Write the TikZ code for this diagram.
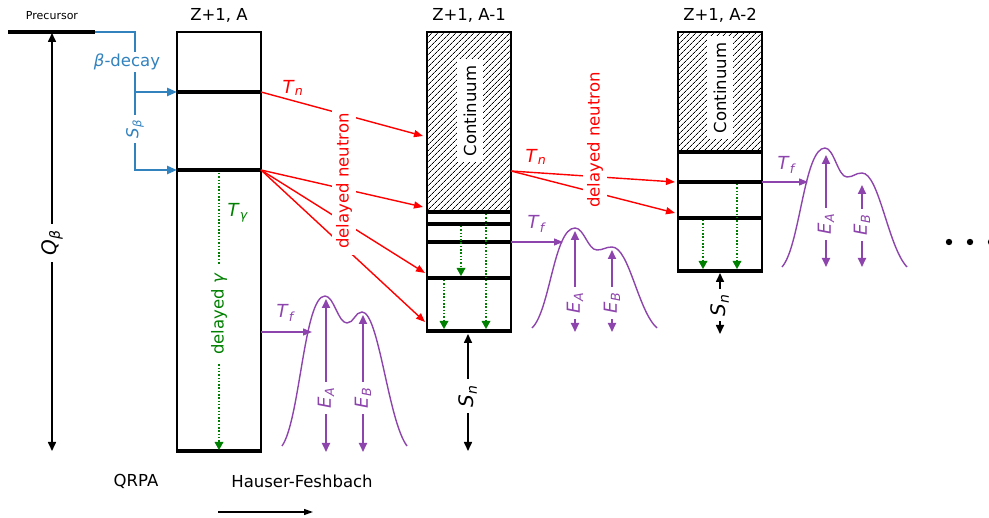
\documentclass[tikz,border=0pt]{standalone}
\usepackage{fontspec}
\setmainfont{DejaVu Sans}
\usetikzlibrary{arrows.meta,patterns.meta}
\definecolor{bblue}{RGB}{50,130,190}
\definecolor{ppurple}{RGB}{142,68,173}
\definecolor{ggreen}{RGB}{0,128,0}
\newcommand{\mlab}[2]{\textit{#1}\textsubscript{\textit{#2}}}
\newcommand{\hump}[5]{%
  \begin{scope}[shift={(#1,#2)}]
  \draw[pcurve] (0,0) .. controls (18,{-0.17*#3}) and (22,-#3) .. (43,-#3)
     .. controls (52,-#3) and (56,-#4) .. (65,-#4)
     .. controls (72,-#4) and (73,-#5) .. (80,-#5)
     .. controls (97,-#5) and (106,{-0.17*#3}) .. (125,0);
  \end{scope}}
\begin{document}
\begin{tikzpicture}[x=1pt,y=-1pt,
  every node/.style={font=\fontsize{16.5}{19}\selectfont},
  lvl/.style={line width=4.5pt},
  boxline/.style={line width=1.5pt},
  hatch/.style={pattern={Lines[angle=45,distance=4pt,line width=0.8pt]}},
  gap/.style={fill=white,inner sep=4pt},
  big/.style={font=\fontsize{20}{24}\selectfont},
  mid/.style={font=\fontsize{18}{21}\selectfont},
  blueline/.style={draw=bblue,line width=2.5pt},
  bluetip/.style={-{Triangle[length=10pt,width=8pt]}},
  redarr/.style={draw=red,line width=1.4pt,-{Triangle[length=9pt,width=7pt]}},
  grarr/.style={draw=ggreen,line width=1.6pt,dash pattern=on 1.5pt off 1.8pt,-{Triangle[length=8pt,width=9pt,line width=0pt]}},
  parr/.style={draw=ppurple,line width=1.3pt,-{Triangle[length=9pt,width=7pt]}},
  pdbl/.style={draw=ppurple,line width=2pt,{Triangle[length=9pt,width=8pt]}-{Triangle[length=9pt,width=8pt]}},
  pcurve/.style={draw=ppurple,line width=1.4pt},
  kdbl/.style={draw=black,line width=1.6pt,{Triangle[length=9pt,width=8pt]}-{Triangle[length=9pt,width=8pt]}},
  contbox/.style={fill=white,rotate=90,minimum width=103pt,minimum height=26pt,inner sep=0pt}]
\useasboundingbox (0,0) rectangle (989,518);
\clip (0,0) rectangle (989,518);

% ---------------- precursor ----------------
\node (prec) at (52,16) {\fontsize{11}{13}\selectfont Precursor};
\coordinate (pL) at (8,32);
\coordinate (pR) at (95,32);
\draw[lvl] (pL) -- (pR);

% Q beta
\coordinate (qtop) at (52,33);
\coordinate (qbot) at (52,451);
\draw[kdbl] (qbot) -- (qtop);
\node[gap,rotate=90,big,inner sep=6pt] (qb) at (52,243) {\mlab{Q}{β}};

% ---------------- box 1 ----------------
\node (t1) at (219,15) {Z+1, A};
\coordinate (b1tl) at (177,32);
\coordinate (b1br) at (261,452);
\draw[boxline] (b1tl) rectangle (b1br);
\coordinate (a1L) at (177,92);  \coordinate (a1R) at (261,92);
\coordinate (a2L) at (177,170); \coordinate (a2R) at (261,170);
\coordinate (a3L) at (177,451); \coordinate (a3R) at (261,451);
\draw[lvl] (a1L) -- (a1R);
\draw[lvl] (a2L) -- (a2R);
\draw[lvl] (a3L) -- (a3R);

% beta decay
\coordinate (bk) at (135,32);
\coordinate (bk2) at (135,92);
\coordinate (bk3) at (135,170);
\draw[blueline,bluetip] (pR) -- (bk) -- (bk3) -- (a2L);
\draw[blueline,bluetip] (bk2) -- (a1L);
\node[gap,text=bblue,inner sep=2pt] (bdec) at (127,62) {\textit{β}-decay};
\node[gap,text=bblue,rotate=90,inner xsep=5pt,inner ysep=3pt] (sbeta) at (135,129) {\mlab{S}{β}};

% delayed gamma
\coordinate (g1s) at (219,173);
\coordinate (g1e) at (219,450);
\draw[grarr] (g1s) -- (g1e);
\node[gap,text=ggreen,rotate=90,inner xsep=8pt] (dg) at (219,314) {delayed \textit{γ}};
\node[text=ggreen,mid] (tg) at (238,213) {\mlab{T}{γ}};

% ---------------- box 2 ----------------
\node (t2) at (469,15) {Z+1, A-1};
\coordinate (b2tl) at (427,32);
\coordinate (b2br) at (511,332);
\coordinate (b2h) at (511,211);
\fill[hatch] (b2tl) rectangle (b2h);
\draw[boxline] (b2tl) rectangle (b2br);
\node[contbox] (cont2) at (470,111) {Continuum};
\foreach \yy/\nm in {212/l1,224/l2,242/l3,278/l4,331/l5}{
  \coordinate (c\nm L) at (427,\yy);
  \coordinate (c\nm R) at (511,\yy);
  \draw[lvl] (c\nm L) -- (c\nm R);
}

% red arrows box1 -> box2
\coordinate (r1) at (423,136);
\coordinate (r2) at (423,207);
\coordinate (r3) at (425,273);
\coordinate (r4) at (425,322);
\draw[redarr] (a1R) -- (r1);
\draw[redarr] (a2R) -- (r2);
\draw[redarr] (a2R) -- (r3);
\draw[redarr] (a2R) -- (r4);
\node[gap,text=red,rotate=90,inner xsep=6pt] (dn1) at (344,181) {delayed neutron};
\node[text=red,mid] (tn1) at (293,88) {\mlab{T}{n}};

% green arrows box 2
\coordinate (g2a) at (461,226); \coordinate (g2b) at (461,276);
\coordinate (g2c) at (486,214); \coordinate (g2d) at (486,329);
\coordinate (g2e) at (444,280); \coordinate (g2f) at (444,329);
\draw[grarr] (g2a) -- (g2b);
\draw[grarr] (g2c) -- (g2d);
\draw[grarr] (g2e) -- (g2f);

% S_n box 2
\coordinate (s2a) at (468,334);
\coordinate (s2b) at (468,451);
\draw[kdbl] (s2b) -- (s2a);
\node[gap,rotate=90,big,inner sep=6pt] (sn2) at (468,396) {\mlab{S}{n}};

% ---------------- box 3 ----------------
\node (t3) at (720,15) {Z+1, A-2};
\coordinate (b3tl) at (678,32);
\coordinate (b3br) at (762,272);
\coordinate (b3h) at (762,151);
\fill[hatch] (b3tl) rectangle (b3h);
\draw[boxline] (b3tl) rectangle (b3br);
\node[contbox] (cont3) at (720,88) {Continuum};
\foreach \yy/\nm in {152/l1,182/l2,218/l3,271/l4}{
  \coordinate (d\nm L) at (678,\yy);
  \coordinate (d\nm R) at (762,\yy);
  \draw[lvl] (d\nm L) -- (d\nm R);
}

% red arrows box2 -> box3
\coordinate (b2o) at (511,171);
\coordinate (r5) at (675,182);
\coordinate (r6) at (675,213);
\draw[redarr] (b2o) -- (r5);
\draw[redarr] (b2o) -- (r6);
\node[gap,text=red,rotate=90,inner xsep=6pt] (dn2) at (595,140) {delayed neutron};
\node[text=red,mid] (tn2) at (536,157) {\mlab{T}{n}};

% green arrows box 3
\coordinate (g3a) at (703,220); \coordinate (g3b) at (703,269);
\coordinate (g3c) at (737,184); \coordinate (g3d) at (737,269);
\draw[grarr] (g3a) -- (g3b);
\draw[grarr] (g3c) -- (g3d);

% S_n box 3
\coordinate (s3a) at (720,273);
\coordinate (s3b) at (720,334);
\draw[kdbl] (s3b) -- (s3a);
\node[gap,rotate=90,big,inner sep=5pt] (sn3) at (720,305) {\mlab{S}{n}};

% ---------------- fission humps ----------------
\hump{282}{446}{150}{123}{134}
\hump{532}{328}{100}{78}{81}
\hump{782}{267}{119}{90}{94}

% T_f arrows
\coordinate (f1s) at (261,332); \coordinate (f1e) at (312,332);
\draw[parr] (f1s) -- (f1e);
\node[text=ppurple,mid] (tf1) at (286,313) {\mlab{T}{f}};
\coordinate (f2s) at (511,242); \coordinate (f2e) at (563,242);
\draw[parr] (f2s) -- (f2e);
\node[text=ppurple,mid] (tf2) at (537,224) {\mlab{T}{f}};
\coordinate (f3s) at (762,182); \coordinate (f3e) at (808,182);
\draw[parr] (f3s) -- (f3e);
\node[text=ppurple,mid] (tf3) at (787,165) {\mlab{T}{f}};

% E_A / E_B arrows
\coordinate (ea1b) at (326,452); \coordinate (ea1t) at (326,299);
\draw[pdbl] (ea1b) -- (ea1t);
\node[gap,rotate=90,text=ppurple,mid,inner xsep=6pt,inner ysep=1pt] (ea1) at (326,398) {\mlab{E}{A}};
\coordinate (eb1b) at (363,452); \coordinate (eb1t) at (363,315);
\draw[pdbl] (eb1b) -- (eb1t);
\node[gap,rotate=90,text=ppurple,mid,inner xsep=6pt,inner ysep=1pt] (eb1) at (363,398) {\mlab{E}{B}};

\coordinate (ea2b) at (575,332); \coordinate (ea2t) at (575,231);
\draw[pdbl] (ea2b) -- (ea2t);
\node[gap,rotate=90,text=ppurple,mid,inner xsep=6pt,inner ysep=1pt] (ea2) at (575,303) {\mlab{E}{A}};
\coordinate (eb2b) at (612,332); \coordinate (eb2t) at (612,250);
\draw[pdbl] (eb2b) -- (eb2t);
\node[gap,rotate=90,text=ppurple,mid,inner xsep=6pt,inner ysep=1pt] (eb2) at (612,303) {\mlab{E}{B}};

\coordinate (ea3b) at (826,267); \coordinate (ea3t) at (826,155);
\draw[pdbl] (ea3b) -- (ea3t);
\node[gap,rotate=90,text=ppurple,mid,inner xsep=6pt,inner ysep=1pt] (ea3) at (826,224) {\mlab{E}{A}};
\coordinate (eb3b) at (862,267); \coordinate (eb3t) at (862,185);
\draw[pdbl] (eb3b) -- (eb3t);
\node[gap,rotate=90,text=ppurple,mid,inner xsep=6pt,inner ysep=1pt] (eb3) at (862,225) {\mlab{E}{B}};

% dots
\fill (949,242) circle (3.2pt);
\fill (970,242) circle (3.2pt);
\fill (991,242) circle (3.2pt);

% ---------------- bottom ----------------
\node (qrpa) at (136,481) {QRPA};
\node (hf) at (302,481) {Hauser-Feshbach};
\coordinate (ax1) at (218,512);
\coordinate (ax2) at (313,512);
\draw[line width=1.2pt,-{Triangle[length=9pt,width=6pt]}] (ax1) -- (ax2);
\end{tikzpicture}
\end{document}
